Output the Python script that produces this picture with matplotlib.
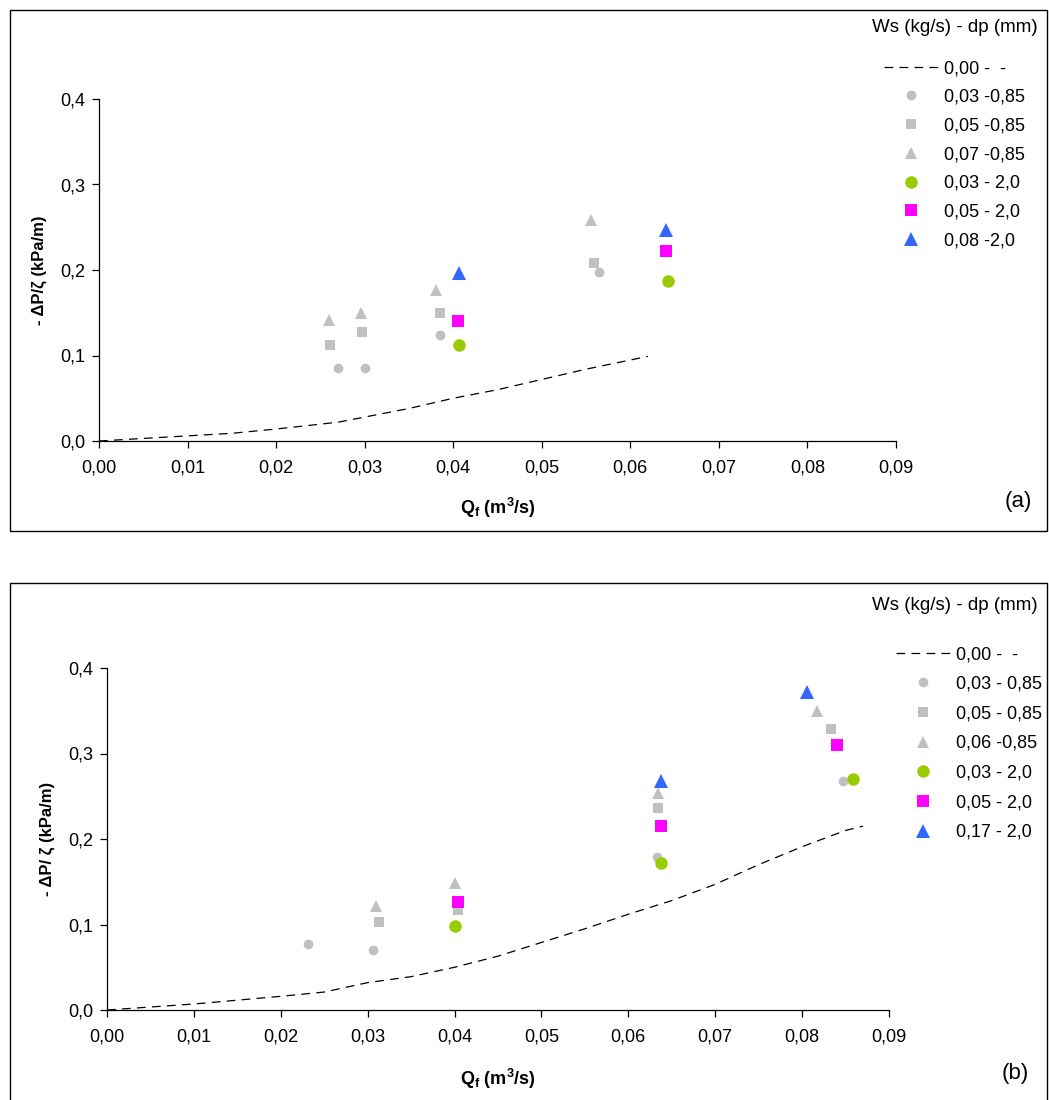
import numpy as np
import matplotlib
matplotlib.use("Agg")
import matplotlib.pyplot as plt
from matplotlib.patches import Rectangle
from matplotlib.ticker import MultipleLocator, FuncFormatter

plt.rcParams['font.family'] = ['Liberation Sans', 'DejaVu Sans']
plt.rcParams['mathtext.fontset'] = 'custom'
plt.rcParams['mathtext.rm'] = 'Liberation Sans'
plt.rcParams['mathtext.bf'] = 'Liberation Sans:bold'
plt.rcParams['mathtext.it'] = 'Liberation Sans:italic'

# ---- panel (a) data ----
a_line_x = [0.0, 0.005, 0.01, 0.015, 0.02, 0.027, 0.03, 0.035, 0.04, 0.045, 0.05, 0.055, 0.062]
a_line_y = [0.0, 0.003, 0.006, 0.009, 0.014, 0.022, 0.028, 0.038, 0.050, 0.060, 0.072, 0.084, 0.099]
a_c085_x = [0.0270, 0.0300, 0.0385, 0.0565]
a_c085_y = [0.085, 0.085, 0.124, 0.198]
a_s085_x = [0.0261, 0.0297, 0.0385, 0.0559]
a_s085_y = [0.112, 0.127, 0.150, 0.208]
a_t085_x = [0.0260, 0.0296, 0.0380, 0.0556]
a_t085_y = [0.142, 0.150, 0.177, 0.258]
a_c20_x = [0.0407, 0.0642]
a_c20_y = [0.112, 0.187]
a_s20_x = [0.0405, 0.0640]
a_s20_y = [0.140, 0.222]
a_t20_x = [0.0407, 0.0640]
a_t20_y = [0.196, 0.247]
a_labels = ['0,00 -  -', '0,03 -0,85', '0,05 -0,85', '0,07 -0,85',
            '0,03 - 2,0', '0,05 - 2,0', '0,08 -2,0']

# ---- panel (b) data ----
b_line_x = [0.0, 0.01, 0.02, 0.025, 0.03, 0.035, 0.04, 0.045, 0.05, 0.055, 0.06,
            0.065, 0.07, 0.075, 0.08, 0.085, 0.087]
b_line_y = [0.0, 0.007, 0.016, 0.021, 0.032, 0.039, 0.050, 0.063, 0.079, 0.095, 0.112,
            0.128, 0.147, 0.170, 0.191, 0.210, 0.215]
b_c085_x = [0.0231, 0.0306, 0.0633, 0.0847]
b_c085_y = [0.077, 0.070, 0.179, 0.268]
b_s085_x = [0.0313, 0.0404, 0.0634, 0.0833]
b_s085_y = [0.103, 0.117, 0.236, 0.329]
b_t085_x = [0.0310, 0.0400, 0.0634, 0.0817]
b_t085_y = [0.122, 0.149, 0.254, 0.350]
b_c20_x = [0.0400, 0.0638, 0.0858]
b_c20_y = [0.098, 0.172, 0.270]
b_s20_x = [0.0404, 0.0638, 0.0840]
b_s20_y = [0.126, 0.215, 0.310]
b_t20_x = [0.0638, 0.0806]
b_t20_y = [0.268, 0.372]
b_labels = ['0,00 -  -', '0,03 - 0,85', '0,05 - 0,85', '0,06 -0,85',
            '0,03 - 2,0', '0,05 - 2,0', '0,17 - 2,0']

LEG_TITLE = 'Ws (kg/s) - dp (mm)'

GREY = '#c0c0c0'
GREEN = '#99cc00'
MAGENTA = '#ff00ff'
BLUE = '#3366ff'

W, H = 1049, 1100
fig = plt.figure(figsize=(W / 100, H / 100), dpi=100)


def fbox(x0, y0, x1, y1):
    # pixel box (top-left origin) -> figure coords
    return [x0 / W, 1 - y1 / H, (x1 - x0) / W, (y1 - y0) / H]


def comma(v, nd):
    return f"{v:.{nd}f}".replace('.', ',')


def panel(rect, border, data, labels, ylabel, tag, tagpos, title_pos, leg_pos,
          leg_space, xpad):
    fig.patches.append(Rectangle((border[0], border[1]), border[2], border[3],
                                 transform=fig.transFigure, fill=False,
                                 edgecolor='black', linewidth=1.0))
    ax = fig.add_axes(rect)
    lx, ly, c085, s085, t085, c20, s20, t20 = data
    h = []
    h += ax.plot(lx, ly, color='black', linestyle=(0, (7, 5)), linewidth=0.9)
    h += ax.plot(*c085, 'o', color=GREY, ms=7, mew=0, linestyle='none')
    h += ax.plot(*s085, 's', color=GREY, ms=6.5, mew=0, linestyle='none')
    h += ax.plot(*t085, '^', color=GREY, ms=8, mew=0, linestyle='none')
    h += ax.plot(*c20, 'o', color=GREEN, ms=9, mew=0, linestyle='none')
    h += ax.plot(*s20, 's', color=MAGENTA, ms=8, mew=0, linestyle='none')
    h += ax.plot(*t20, '^', color=BLUE, ms=9.5, mew=0, linestyle='none')

    ax.set_xlim(0, 0.09)
    ax.set_ylim(0, 0.4)
    ax.xaxis.set_major_locator(MultipleLocator(0.01))
    ax.yaxis.set_major_locator(MultipleLocator(0.1))
    ax.xaxis.set_major_formatter(FuncFormatter(lambda v, p: comma(v, 2)))
    ax.yaxis.set_major_formatter(FuncFormatter(lambda v, p: comma(v, 1)))
    ax.spines['top'].set_visible(False)
    ax.spines['right'].set_visible(False)
    ax.spines['left'].set_linewidth(0.9)
    ax.spines['bottom'].set_linewidth(0.9)
    ax.tick_params(direction='out', length=5, width=0.9, labelsize=13)
    ax.tick_params(axis='x', pad=8)
    ax.tick_params(axis='y', pad=5)
    ax.set_xlabel(r'$\mathbf{Q_f}$ $\mathbf{(m^3/s)}$', fontsize=13, labelpad=xpad)
    ax.set_ylabel(ylabel, fontsize=12, fontweight='bold', labelpad=9)
    ax.patch.set_alpha(0)

    fig.text(title_pos[0] / W, 1 - title_pos[1] / H, LEG_TITLE, fontsize=13.5,
             ha='center', va='center')
    fig.legend(h, labels, loc='upper left',
               bbox_to_anchor=(leg_pos[0] / W, 1 - leg_pos[1] / H),
               frameon=False, fontsize=13, handlelength=3.0, handletextpad=0.35,
               labelspacing=leg_space, borderaxespad=0, borderpad=0)
    fig.text(tagpos[0] / W, 1 - tagpos[1] / H, tag, fontsize=16, ha='center', va='center')
    return ax


panel(fbox(99, 99, 896, 441), fbox(10, 10, 1047, 531),
      (a_line_x, a_line_y, (a_c085_x, a_c085_y), (a_s085_x, a_s085_y),
       (a_t085_x, a_t085_y), (a_c20_x, a_c20_y), (a_s20_x, a_s20_y),
       (a_t20_x, a_t20_y)),
      a_labels, '- ΔP/ζ (kPa/m)', '(a)', (1018, 501), (955, 28), (884, 60), 0.65, 14.5)

panel(fbox(107, 668, 889, 1010), fbox(10, 583, 1047, 1105),
      (b_line_x, b_line_y, (b_c085_x, b_c085_y), (b_s085_x, b_s085_y),
       (b_t085_x, b_t085_y), (b_c20_x, b_c20_y), (b_s20_x, b_s20_y),
       (b_t20_x, b_t20_y)),
      b_labels, '- ΔP/ ζ (kPa/m)', '(b)', (1015, 1074), (955, 605), (896, 646), 0.7, 16)

fig.savefig('out.png', dpi=100)
